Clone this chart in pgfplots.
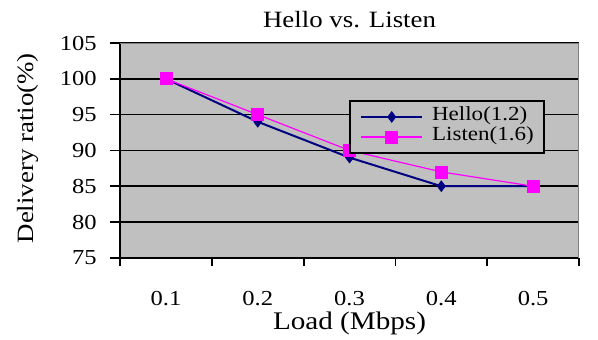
\documentclass[border=0pt]{standalone}
\usepackage{fontspec}
\setmainfont{Liberation Serif}[FakeStretch=1.15]
\usepackage{pgfplots}
\pgfplotsset{compat=1.18}
\definecolor{plotgray}{HTML}{C0C0C0}
\definecolor{bordergray}{HTML}{808080}
\definecolor{navyc}{HTML}{000080}
\definecolor{magc}{HTML}{FF00FF}
\begin{document}
\begin{tikzpicture}
\begin{axis}[name=ax,
  scale only axis, width=344pt, height=161pt,
  xmin=0.5, xmax=5.5, ymin=75, ymax=105,
  xtick={1,2,3,4,5}, xticklabels={0.1,0.2,0.3,0.4,0.5},
  minor xtick={0.5,1.5,2.5,3.5,4.5,5.5},
  ytick={75,80,85,90,95,100,105},
  axis background/.style={fill=plotgray},
  axis x line*=bottom, axis y line*=left,
  axis line style={black, line width=1.5pt},
  tick align=outside,
  major tick length=7.5pt, minor tick length=6pt,
  every major x tick/.append style={draw=none},
  every minor x tick/.append style={black, line width=1.3pt},
  every major y tick/.append style={black, line width=1.3pt},
  ymajorgrids, grid style={black, line width=1.2pt},
  /pgf/number format/assume math mode=true,
  tick label style={font=\fontsize{16}{16}\selectfont},
  xticklabel style={anchor=base, yshift=-28pt},
  yticklabel style={anchor=east, xshift=-6.5pt},
  title={Hello vs. Listen},
  title style={font=\fontsize{17.5}{18}\selectfont, at={(0.5,1)}, anchor=base, yshift=6pt},
  xlabel={Load (Mbps)},
  xlabel style={font=\fontsize{19}{20}\selectfont, at={(0.5,0)}, anchor=base, yshift=-54pt},
  ylabel={Delivery ratio(\%)},
  ylabel style={font=\fontsize{17.5}{18}\selectfont, at={(-0.189,0.51)}, anchor=base},
  legend style={at={(0.499,0.735)}, anchor=north west, fill=plotgray, draw=black, line width=1.5pt,
    font=\fontsize{15}{15}\selectfont, inner xsep=7.5pt, inner ysep=4.5pt,
    nodes={inner sep=0pt, text height=10.5pt, text depth=4.5pt},
    /tikz/every odd column/.append style={column sep=6.5pt}},
  legend cell align=left,
  legend image code/.code={\draw[#1, mark repeat=2, mark phase=2] plot coordinates {(0pt,0pt) (23pt,0pt) (46pt,0pt)};},
]
\addplot[navyc, line width=1.5pt, mark=diamond*, mark size=4pt, mark options={fill=navyc, draw=navyc, line width=0.5pt}]
  coordinates {(1,100) (2,94) (3,89) (4,85) (5,85)};
\addlegendentry{Hello(1.2)}
\addplot[magc, line width=0.9pt, mark=square*, mark size=4.5pt, mark options={fill=magc, draw=magc, line width=0.5pt}]
  coordinates {(1,100) (2,95) (3,90) (4,87) (5,85)};
\addlegendentry{Listen(1.6)}
\draw[bordergray, line width=1.5pt] (rel axis cs:0,1) -- (rel axis cs:1,1) -- (rel axis cs:1,0);
\end{axis}
\pgfresetboundingbox
\path[use as bounding box] ([shift={(-90pt,-61.5pt)}]ax.south west) rectangle ([shift={(14.25pt,32.25pt)}]ax.north east);
\end{tikzpicture}
\end{document}
